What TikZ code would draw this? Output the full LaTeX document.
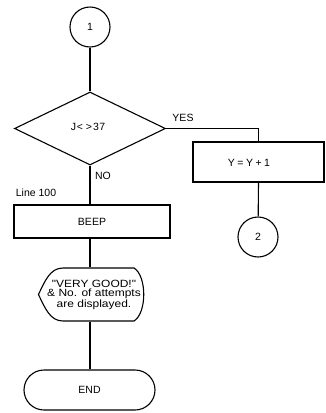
\documentclass[tikz,border=0pt]{standalone}
\usepackage{fontspec}
\setmainfont{Liberation Sans}
\newfontfamily\dispfont[FakeStretch=1.14]{Liberation Sans}
\usetikzlibrary{shapes.geometric}
\begin{document}
\begin{tikzpicture}[x=1pt,y=-1pt,line width=1.1pt,
  every node/.style={font=\fontsize{10.5}{10.5}\selectfont},
  conn/.style={circle,draw,minimum size=40pt,inner sep=0pt},
  decision/.style={diamond,draw,minimum width=151pt,minimum height=73pt,inner sep=0pt},
  procbox/.style={rectangle,draw,inner sep=0pt},
  term/.style={rectangle,draw,rounded corners=20pt,minimum width=131pt,minimum height=40pt,inner sep=0pt},
  lbl/.style={inner sep=0pt}]
\useasboundingbox (0,0) rectangle (326,413);
\node[conn] (c1) at (90,27) {1};
\node[decision] (dec) at (90,128.5) {};
\node[lbl] (dect) at (88,127) {J\kern0.8pt<\kern3pt>\kern1pt3\kern0.5pt7};
\node[lbl] (yes) at (183,118) {YES};
\node[lbl] (no) at (103,176) {NO};
\node[procbox,minimum width=131pt,minimum height=40pt] (yy) at (258.5,162) {};
\node[lbl] (yyt) at (249,162.5) {Y\kern2.5pt=\kern2.5pt Y\kern2.5pt+\kern2.5pt1};
\node[conn] (c2) at (258,237) {2};
\node[lbl] (ln) at (36,193) {Line 100};
\node[procbox,minimum width=156pt,minimum height=33pt] (beep) at (92,221.5) {BEEP};
\node[inner sep=0pt,minimum width=106pt,minimum height=53pt] (disp) at (92,294.5) {};
\node[lbl,align=center,font=\dispfont\fontsize{10.5}{9.3}\selectfont] (dispt) at (94,295)
  {"VERY GOOD!"\\ \& No. of attempts\\ are displayed.};
\draw (disp.west) .. controls (45,281) and (50,268) .. (63,268) -- (134,268)
  .. controls (147,276) and (147,313) .. (134,321) -- (63,321)
  .. controls (50,321) and (45,308) .. (disp.west);
\node[term] (end) at (89.5,390) {END};
\draw (c1) -- (dec.north);
\draw (dec.east) -| (yy.north);
\draw (yy.south) -- (c2);
\draw (dec.south) -- (beep.north -| dec.south);
\draw (beep.south -| dec.south) -- (disp.north -| dec.south);
\draw (disp.south -| dec.south) -- (end.north -| dec.south);
\end{tikzpicture}
\end{document}
